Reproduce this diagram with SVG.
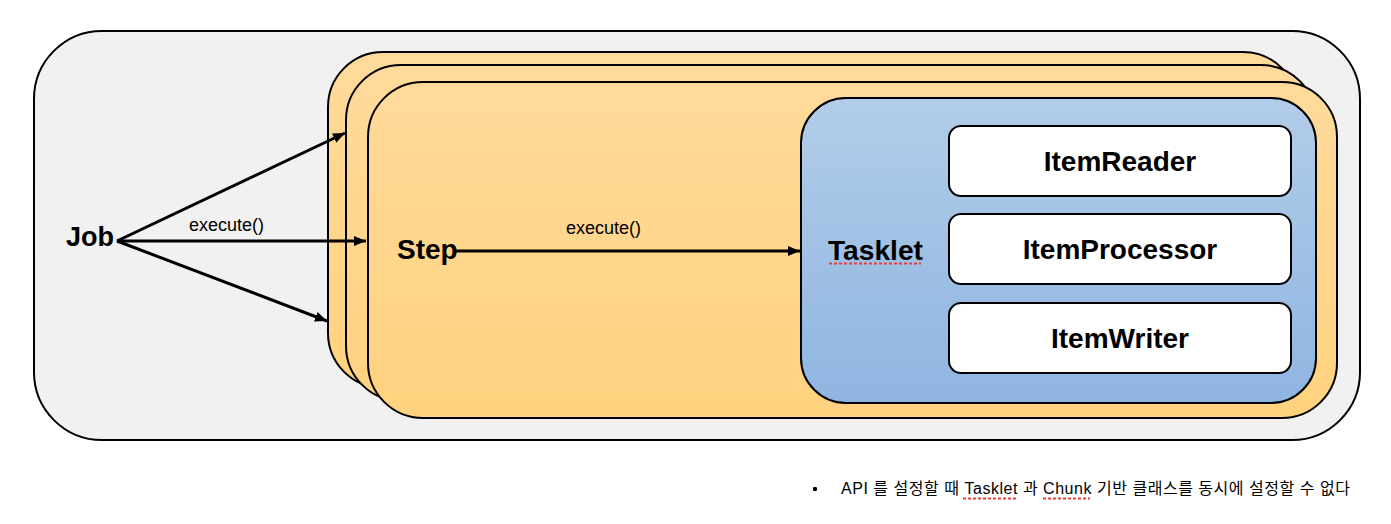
<svg xmlns="http://www.w3.org/2000/svg" width="1391" height="524" viewBox="0 0 1391 524">
  <defs>
    <linearGradient id="stepGrad" x1="0" y1="0" x2="0" y2="1">
      <stop offset="0" stop-color="#FFDA9B"/>
      <stop offset="1" stop-color="#FFD27E"/>
    </linearGradient>
    <linearGradient id="taskGrad" x1="0" y1="0" x2="0" y2="1">
      <stop offset="0" stop-color="#B2CDE9"/>
      <stop offset="1" stop-color="#8FB5E1"/>
    </linearGradient>
    <marker id="arrow" markerUnits="userSpaceOnUse" markerWidth="13" markerHeight="11" refX="12" refY="5" orient="auto">
      <path d="M0,0 L12,5 L0,10 Z" fill="#000"/>
    </marker>
    <style>
      .box { stroke: #000; stroke-width: 2; }
      .step { fill: url(#stepGrad); }
      .bold { font-family: "Liberation Sans", Arial, sans-serif; font-weight: bold; fill: #000; }
      .label { font-family: "Liberation Sans", Arial, sans-serif; font-size: 18px; fill: #000; }
      .conn { stroke: #000; stroke-width: 3; fill: none; marker-end: url(#arrow); }
      .spell { stroke: #F03A36; stroke-width: 2; stroke-dasharray: 3 2; fill: none; }
      .note { font-family: "Liberation Sans", "Noto Sans CJK KR", sans-serif; font-size: 16px; fill: #000; }
    </style>
  </defs>

  <g id="job">
    <rect class="box" x="34" y="31" width="1326" height="409" rx="68" ry="68" fill="#F1F1F1"/>
    <text class="bold" x="66" y="246" font-size="27">Job</text>
  </g>

  <g id="step1">
    <rect class="box step" x="328" y="52" width="970" height="336" rx="55" ry="55"/>
  </g>
  <g id="step2">
    <rect class="box step" x="346" y="65" width="970" height="336" rx="55" ry="55"/>
  </g>
  <g id="step">
    <rect class="box step" x="368" y="82" width="969" height="336" rx="55" ry="55"/>
    <text class="bold" x="397" y="259" font-size="28">Step</text>
  </g>

  <g id="tasklet">
    <rect class="box" x="801" y="98" width="515" height="305" rx="45" ry="45" fill="url(#taskGrad)"/>
    <text class="bold" x="828" y="260" font-size="28" textLength="95" lengthAdjust="spacingAndGlyphs">Tasklet</text>
    <line class="spell" x1="829" y1="263.5" x2="921" y2="263.5"/>
  </g>

  <g id="itemReader">
    <rect class="box" x="949" y="126" width="342" height="70" rx="12" ry="12" fill="#FFFFFF"/>
    <text class="bold" x="1120" y="171" font-size="28" text-anchor="middle">ItemReader</text>
  </g>
  <g id="itemProcessor">
    <rect class="box" x="949" y="214" width="342" height="70" rx="12" ry="12" fill="#FFFFFF"/>
    <text class="bold" x="1120" y="259" font-size="28" text-anchor="middle">ItemProcessor</text>
  </g>
  <g id="itemWriter">
    <rect class="box" x="949" y="303" width="342" height="70" rx="12" ry="12" fill="#FFFFFF"/>
    <text class="bold" x="1120" y="348" font-size="28" text-anchor="middle">ItemWriter</text>
  </g>

  <g id="connectors">
    <line class="conn" x1="117" y1="241" x2="345" y2="133"/>
    <line class="conn" x1="117" y1="241" x2="366" y2="241"/>
    <line class="conn" x1="117" y1="241" x2="327" y2="321"/>
    <text class="label" x="189" y="231">execute()</text>
    <line class="conn" x1="456" y1="251" x2="800" y2="251"/>
    <text class="label" x="566" y="234">execute()</text>
  </g>

  <g id="note">
    <circle cx="815" cy="489" r="2.2" fill="#000"/>
    <text class="note" x="841" y="494" textLength="509" lengthAdjust="spacing">API 를 설정할 때 Tasklet 과 Chunk 기반 클래스를 동시에 설정할 수 없다</text>
    <line class="spell" x1="963" y1="498.5" x2="1017" y2="498.5"/>
    <line class="spell" x1="1043" y1="498.5" x2="1090" y2="498.5"/>
  </g>
</svg>
